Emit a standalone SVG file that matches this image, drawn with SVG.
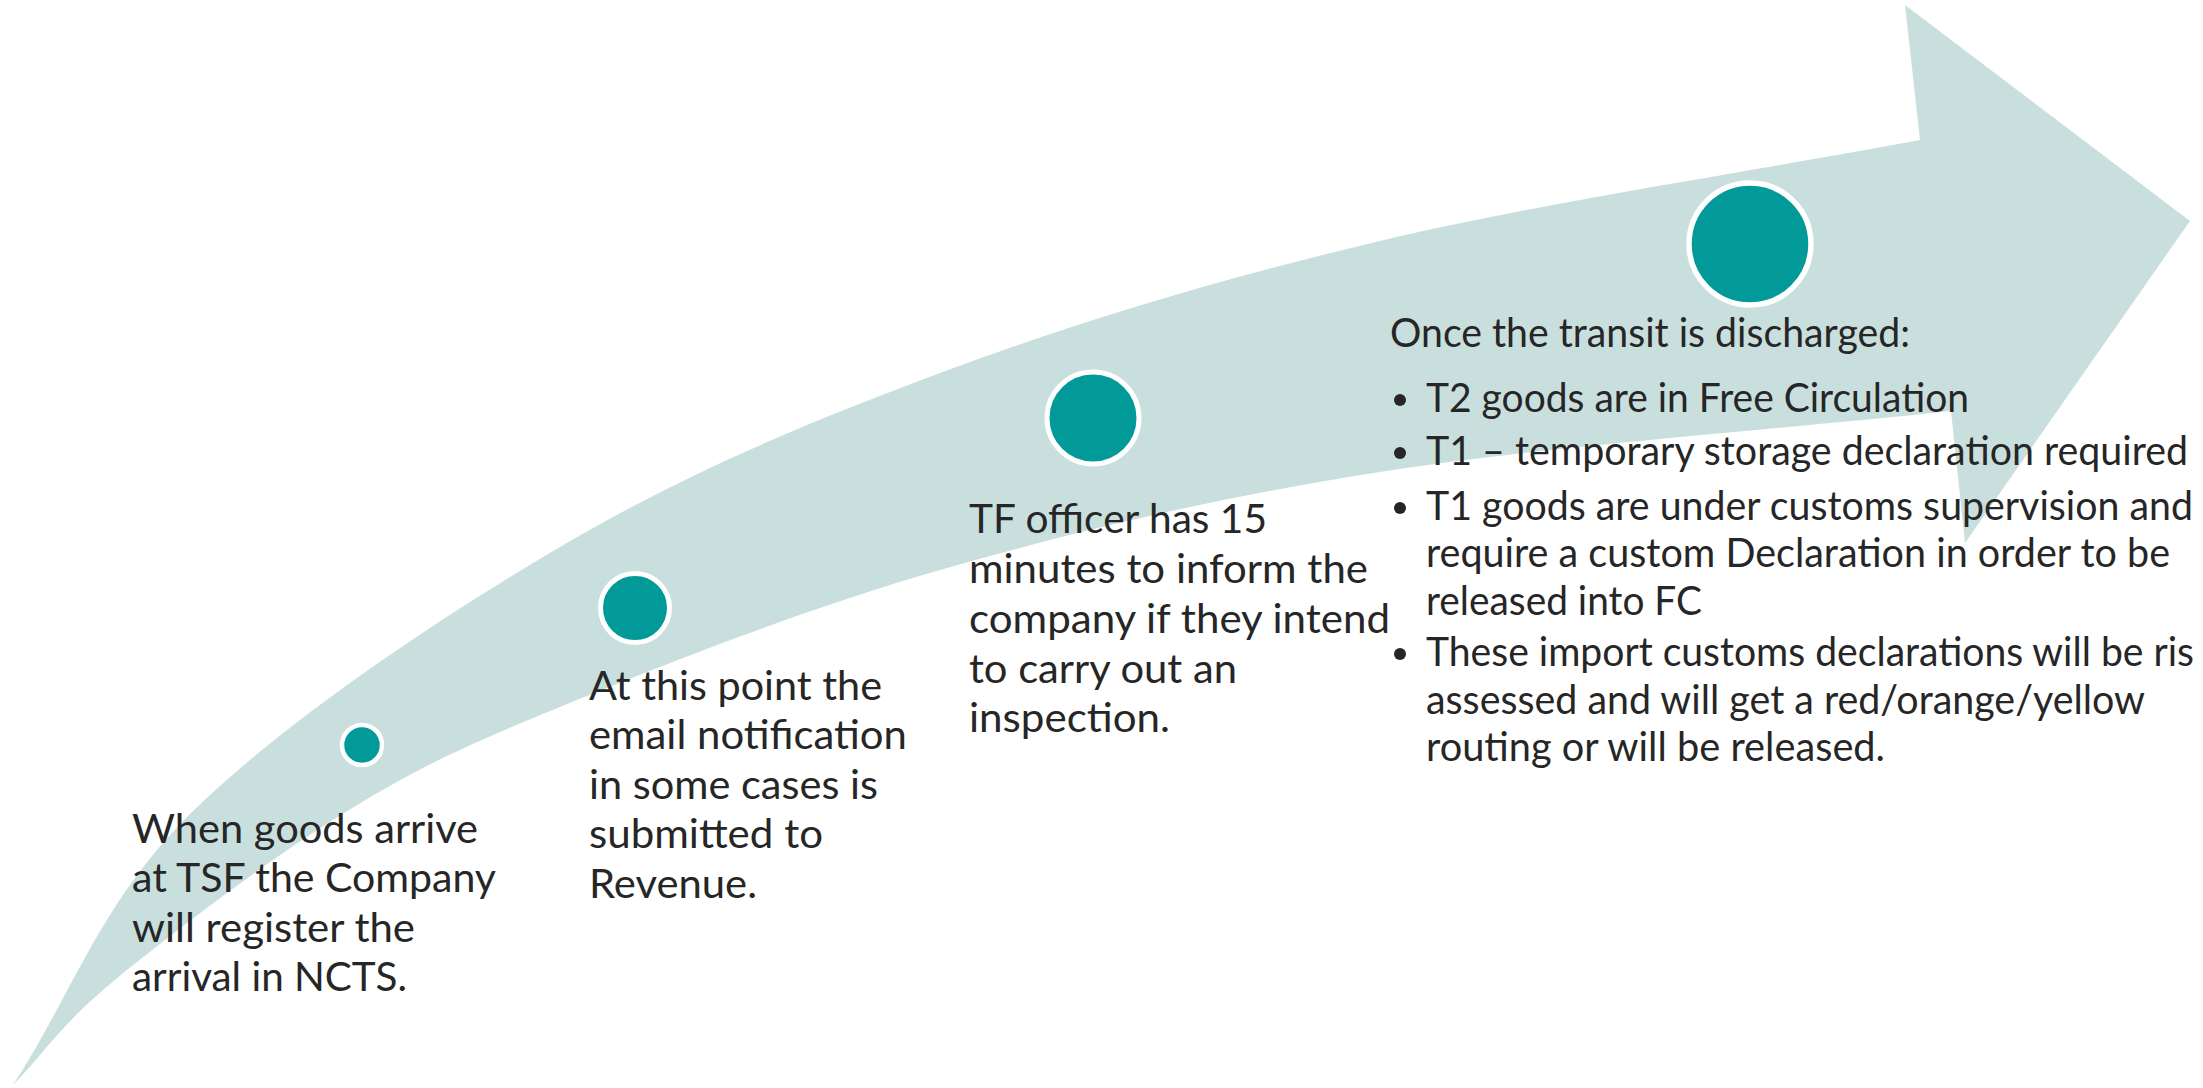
<svg xmlns="http://www.w3.org/2000/svg" width="2203" height="1088" viewBox="0 0 2203 1088">
  <style>
    .band { fill: #C9DFDE; }
    .dot { fill: #019A98; stroke: #FFFFFF; }
    .txt { font-family: Lato, "Open Sans", "Liberation Sans", sans-serif; font-size: 40px; fill: #262626; }
    .bullet { fill: #262626; }
  </style>

  <!-- curved timeline arrow -->
  <g id="timeline">
    <path class="band" d="M13,1085
      C72.3,994.3 99.8,902.7 191,813
      C282.2,723.3 435.2,620.3 560,547
      C684.8,473.7 803.3,424 940,373
      C1076.7,322 1216.7,279.8 1380,241
      C1543.3,202.2 1740,173.7 1920,140
      L1905,5 L2190,221 L1965,543 L1951,411
      C1760.7,431.3 1548.5,445.5 1380,472
      C1211.5,498.5 1076.7,530.8 940,570
      C803.3,609.2 659.3,666.5 560,707
      C460.7,747.5 418.2,767.5 344,813
      C269.8,858.5 170.2,934.7 115,980
      C59.8,1025.3 47,1050 13,1085 Z"/>
  </g>

  <!-- step 1 -->
  <g id="step1">
    <circle class="dot" cx="362" cy="745" r="20" stroke-width="4.5"/>
    <text class="txt" x="132" y="843" textLength="346" lengthAdjust="spacingAndGlyphs">When goods arrive</text>
    <text class="txt" x="132" y="892" textLength="364" lengthAdjust="spacingAndGlyphs">at TSF the Company</text>
    <text class="txt" x="132" y="942" textLength="283" lengthAdjust="spacingAndGlyphs">will register the</text>
    <text class="txt" x="132" y="991" textLength="275" lengthAdjust="spacingAndGlyphs">arrival in NCTS.</text>
  </g>

  <!-- step 2 -->
  <g id="step2">
    <circle class="dot" cx="635" cy="608" r="34.5" stroke-width="5"/>
    <text class="txt" x="589" y="700" textLength="293" lengthAdjust="spacingAndGlyphs">At this point the</text>
    <text class="txt" x="589" y="749" textLength="318" lengthAdjust="spacingAndGlyphs">email notification</text>
    <text class="txt" x="589" y="799" textLength="289" lengthAdjust="spacingAndGlyphs">in some cases is</text>
    <text class="txt" x="589" y="848" textLength="234" lengthAdjust="spacingAndGlyphs">submitted to</text>
    <text class="txt" x="589" y="898" textLength="168" lengthAdjust="spacingAndGlyphs">Revenue.</text>
  </g>

  <!-- step 3 -->
  <g id="step3">
    <circle class="dot" cx="1093" cy="418" r="46" stroke-width="5"/>
    <text class="txt" x="969" y="533" textLength="298" lengthAdjust="spacingAndGlyphs">TF officer has 15</text>
    <text class="txt" x="969" y="583" textLength="399" lengthAdjust="spacingAndGlyphs">minutes to inform the</text>
    <text class="txt" x="969" y="633" textLength="421" lengthAdjust="spacingAndGlyphs">company if they intend</text>
    <text class="txt" x="969" y="683" textLength="268" lengthAdjust="spacingAndGlyphs">to carry out an</text>
    <text class="txt" x="969" y="732" textLength="201" lengthAdjust="spacingAndGlyphs">inspection.</text>
  </g>

  <!-- step 4 -->
  <g id="step4">
    <circle class="dot" cx="1750" cy="244" r="61" stroke-width="5.5"/>
    <text class="txt" x="1390" y="347" textLength="520" lengthAdjust="spacingAndGlyphs">Once the transit is discharged:</text>
    <circle class="bullet" cx="1400" cy="400" r="6"/>
    <text class="txt" x="1426" y="412" textLength="543" lengthAdjust="spacingAndGlyphs">T2 goods are in Free Circulation</text>
    <circle class="bullet" cx="1400" cy="453" r="6"/>
    <text class="txt" x="1426" y="465" textLength="762" lengthAdjust="spacingAndGlyphs">T1 – temporary storage declaration required</text>
    <circle class="bullet" cx="1400" cy="508" r="6"/>
    <text class="txt" x="1426" y="520" textLength="767" lengthAdjust="spacingAndGlyphs">T1 goods are under customs supervision and</text>
    <text class="txt" x="1426" y="567" textLength="744" lengthAdjust="spacingAndGlyphs">require a custom Declaration in order to be</text>
    <text class="txt" x="1426" y="615" textLength="276" lengthAdjust="spacingAndGlyphs">released into FC</text>
    <circle class="bullet" cx="1400" cy="654" r="6"/>
    <text class="txt" x="1426" y="666" textLength="768" lengthAdjust="spacingAndGlyphs">These import customs declarations will be ris</text>
    <text class="txt" x="1426" y="714" textLength="719" lengthAdjust="spacingAndGlyphs">assessed and will get a red/orange/yellow</text>
    <text class="txt" x="1426" y="761" textLength="459" lengthAdjust="spacingAndGlyphs">routing or will be released.</text>
  </g>
</svg>
